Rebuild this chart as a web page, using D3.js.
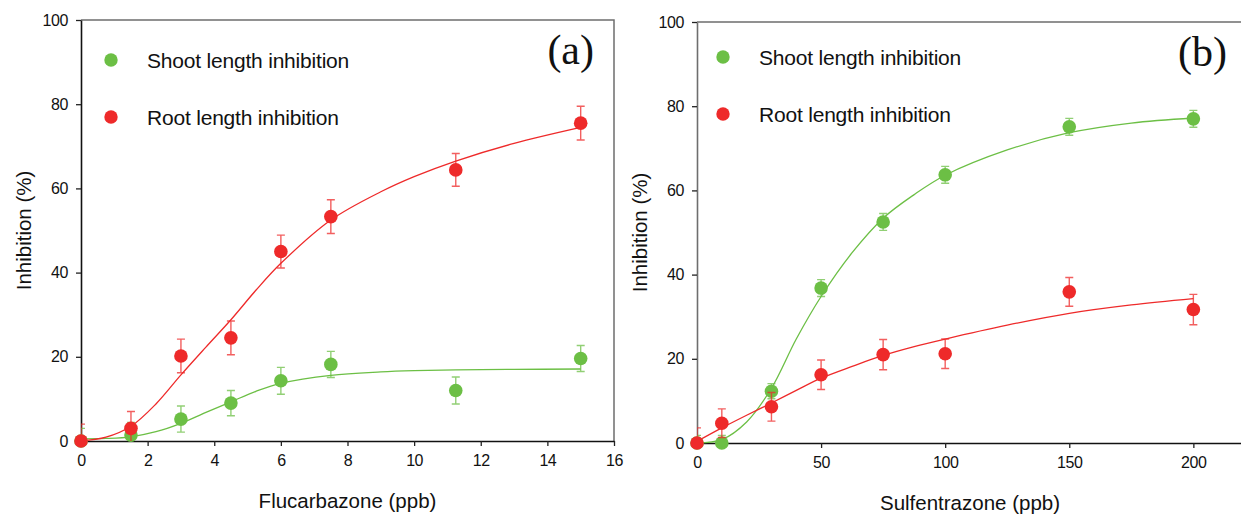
<!DOCTYPE html>
<html>
<head>
<meta charset="utf-8">
<script src="https://cdn.jsdelivr.net/npm/d3@7"></script>
<style>
body{margin:0;background:#fff}
svg text{font-family:"Liberation Sans",Arial,Helvetica,sans-serif;fill:#111}
</style>
</head>
<body>
<script>
// panel (a) - flucarbazone
const doseA=[0,1.5,3,4.5,6,7.5,11.25,15]
const shootA=[0,1.4,5.2,9.0,14.3,18.2,12.0,19.6]
const shootErrA=[3.0,3.0,3.1,3.0,3.2,3.1,3.2,3.1]
const rootA=[0,3.0,20.2,24.5,45.0,53.3,64.4,75.5]
const rootErrA=[4.0,4.0,4.0,4.0,3.9,4.0,3.9,4.0]
// fitted curves
const fitDoseA=[0,0.75,1.5,2.25,3,3.75,4.5,5.25,6,7.5,9,10,11.25,13,15]
const shootFitA=[0.5,0.6,1.0,2.2,4.2,6.8,9.3,11.8,13.7,15.6,16.4,16.7,16.9,17.0,17.1]
const rootFitA=[0,0.9,3.5,8.8,15.7,22.3,28.8,35.8,42.2,52.5,59.2,62.8,66.5,70.7,74.5]
const xTicksA=[0,2,4,6,8,10,12,14,16]

// panel (b) - sulfentrazone
const doseB=[0,10,30,50,75,100,150,200]
const shootB=[0,0,12.3,36.8,52.5,63.7,75.1,77.0]
const shootErrB=[1.8,1.8,1.8,2.0,2.0,2.0,2.0,2.0]
const rootB=[0,4.7,8.6,16.2,21.0,21.2,35.9,31.7]
const rootErrB=[3.6,3.4,3.4,3.5,3.6,3.5,3.4,3.6]
const fitDoseB=[0,10,20,30,40,50,62.5,75,87.5,100,125,150,175,200]
const shootFitB=[0,0.8,5.0,13.0,24.7,34.8,45.2,53.4,59.0,63.6,69.6,73.7,76.0,77.2]
const rootFitB=[0.4,3.6,6.6,9.5,12.5,15.4,18.2,20.8,22.9,24.7,28.0,30.8,32.8,34.3]
const xTicksB=[0,50,100,150,200]

const yTicks=[0,20,40,60,80,100]
const legendNames=["Shoot length inhibition","Root length inhibition"]

const GREEN="#6cbf45", RED="#ee2a2a"

const svg=d3.select("body").append("svg").attr("width",1241).attr("height",516)

function drawPanel(p){
	const x=d3.scaleLinear().domain(p.xdom).range([p.left,p.right])
	const y=d3.scaleLinear().domain([0,100]).range([p.bottom,p.top])
	const g=svg.append("g")

	// frame top/right (grey)
	g.append("path").attr("d","M"+p.left+","+p.top+"H"+p.right+"V"+p.bottom)
		.attr("fill","none").attr("stroke","#6e6e6e").attr("stroke-width",1.5)

	let xa=g.append("g").attr("transform","translate(0,"+p.bottom+")")
		.call(d3.axisBottom(x).tickValues(p.xticks).tickSize(5).tickSizeOuter(0).tickPadding(9))
	let ya=g.append("g").attr("transform","translate("+p.left+",0)")
		.call(d3.axisLeft(y).tickValues(yTicks).tickSize(5).tickSizeOuter(0).tickPadding(8))
	xa.select(".domain").attr("stroke","#111").attr("stroke-width",1.6)
	ya.select(".domain").attr("stroke",p.leftColor).attr("stroke-width",1.6)
	xa.selectAll(".tick line").attr("stroke","#222").attr("stroke-width",1.3)
	ya.selectAll(".tick line").attr("stroke","#222").attr("stroke-width",1.3)
	g.selectAll(".tick text").attr("font-size",16).attr("letter-spacing",-0.4)
		.attr("font-family","Liberation Sans, Arial, sans-serif").attr("fill","#111")

	// axis titles
	g.append("text").attr("x",(p.left+p.xlabelRight)/2).attr("y",p.bottom+67)
		.attr("text-anchor","middle").attr("font-size",20.5).text(p.xlabel)
	g.append("text").attr("transform","translate("+(p.left-50)+","+((p.top+p.bottom)/2)+") rotate(-90)")
		.attr("text-anchor","middle").attr("font-size",20.5).text("Inhibition (%)")

	// panel tag
	g.append("text").attr("x",p.tagX).attr("y",p.top+44).attr("text-anchor","end")
		.style("font-family","'Liberation Serif','Times New Roman',serif").attr("font-size",42).text(p.tag)

	const clipId="clip"+p.tag.replace(/\W/g,"")
	svg.append("clipPath").attr("id",clipId).append("rect")
		.attr("x",p.left).attr("y",p.top).attr("width",p.right-p.left).attr("height",p.bottom-p.top)

	const series=[
		{name:legendNames[0],color:GREEN,dose:p.dose,val:p.shoot,err:p.shootErr,fit:p.shootFit},
		{name:legendNames[1],color:RED,dose:p.dose,val:p.root,err:p.rootErr,fit:p.rootFit}
	]
	const line=d3.line().x(d=>x(d[0])).y(d=>y(d[1])).curve(d3.curveCatmullRom.alpha(0.5))
	for(const s of series){
		g.append("path").datum(p.fitDose.map((d,i)=>[d,s.fit[i]]))
			.attr("d",line).attr("fill","none").attr("stroke",s.color).attr("stroke-width",1.3)
	}
	for(const s of series){
		const pts=s.dose.map((d,i)=>({x:d,v:s.val[i],e:s.err[i]}))
		const eb=g.append("g").attr("clip-path","url(#"+clipId+")")
			.attr("stroke",s.color).attr("stroke-opacity",0.75).attr("stroke-width",1.4).attr("fill","none")
		eb.selectAll("path").data(pts).join("path")
			.attr("d",d=>{
				const cx=x(d.x),t=y(d.v+d.e),b=y(d.v-d.e)
				return "M"+cx+","+t+"V"+b+"M"+(cx-4)+","+t+"H"+(cx+4)+"M"+(cx-4)+","+b+"H"+(cx+4)
			})
		g.append("g").selectAll("circle").data(pts).join("circle")
			.attr("cx",d=>x(d.x)).attr("cy",d=>y(d.v)).attr("r",6.8).attr("fill",s.color)
	}

	// legend
	series.forEach((s,i)=>{
		const ly=p.legendY+i*57
		g.append("circle").attr("cx",p.legendX).attr("cy",ly).attr("r",6.7).attr("fill",s.color)
		g.append("text").attr("x",p.legendX+36).attr("y",ly).attr("dy","0.36em")
			.attr("font-size",21).attr("letter-spacing",-0.2).text(s.name)
	})
}

drawPanel({tag:"(a)",left:81,right:614,top:20,bottom:441,xdom:[0,16],xticks:xTicksA,xlabelRight:614,
	leftColor:"#111",xlabel:"Flucarbazone (ppb)",tagX:594,legendX:111,legendY:60,
	dose:doseA,shoot:shootA,shootErr:shootErrA,root:rootA,rootErr:rootErrA,
	fitDose:fitDoseA,shootFit:shootFitA,rootFit:rootFitA})

drawPanel({tag:"(b)",left:697,right:1243,top:22,bottom:443,xdom:[0,220],xticks:xTicksB,xlabelRight:1243,
	leftColor:"#6e6e6e",xlabel:"Sulfentrazone (ppb)",tagX:1227,legendX:723,legendY:57,
	dose:doseB,shoot:shootB,shootErr:shootErrB,root:rootB,rootErr:rootErrB,
	fitDose:fitDoseB,shootFit:shootFitB,rootFit:rootFitB})
</script>
</body>
</html>
